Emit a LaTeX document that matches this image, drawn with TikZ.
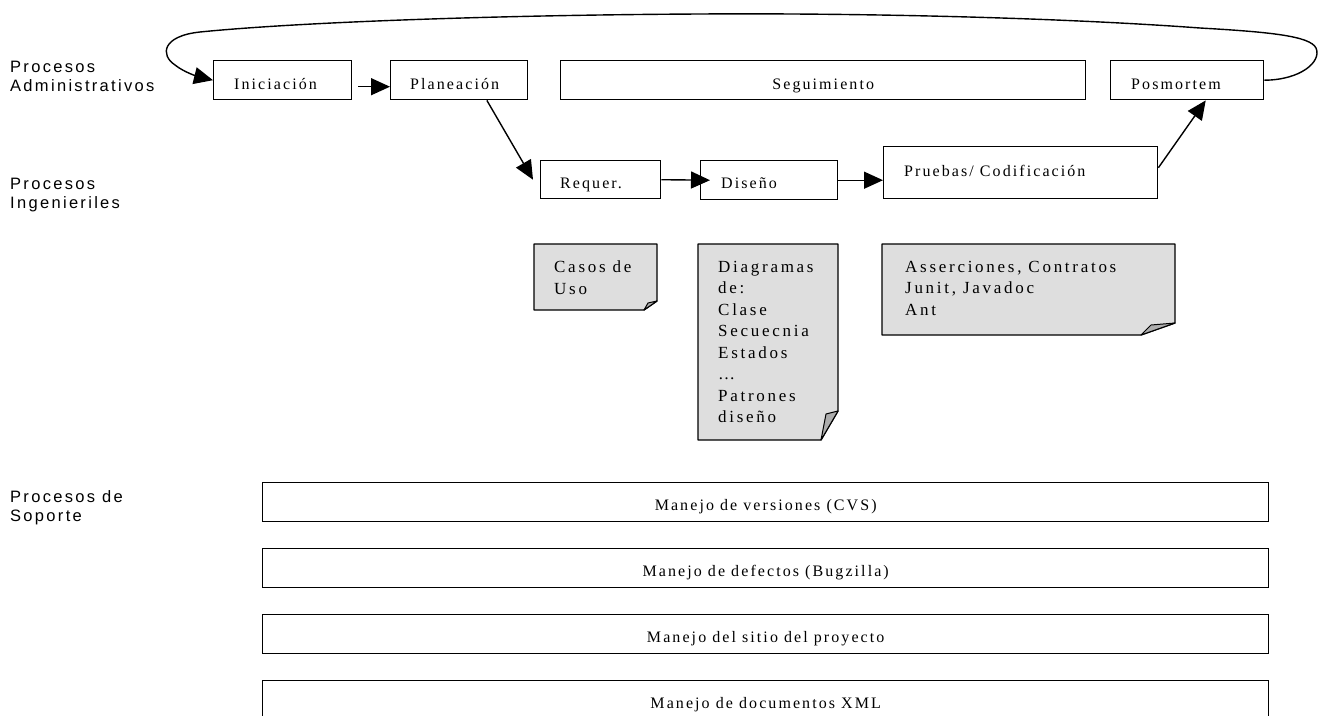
\documentclass[tikz,border=0pt]{standalone}
\usepackage{fontspec}
\newfontfamily\boxfont{Liberation Serif}[LetterSpace=13]
\newfontfamily\notefont{Liberation Serif}[LetterSpace=16]
\newfontfamily\sidefont{Liberation Sans}[LetterSpace=14]
\usepackage{tikz}
\usetikzlibrary{arrows.meta, calc}
\definecolor{notegray}{gray}{0.87}
\definecolor{foldgray}{gray}{0.68}

\begin{document}
\begin{tikzpicture}[x=1pt, y=-1pt,
  box/.style={draw, line width=1.4pt, inner sep=0pt, anchor=north west},
  txt/.style={font=\boxfont\fontsize{16}{21}\selectfont, inner sep=0pt, anchor=base west},
  ctxt/.style={txt, anchor=base},
  notetxt/.style={font=\notefont\fontsize{17}{21.5}\selectfont, inner sep=0pt, anchor=north west, align=left},
  side/.style={font=\sidefont\fontsize{16.5}{19}\selectfont, inner sep=0pt, anchor=north west, align=left},
  note/.style={draw, line width=1.4pt, fill=notegray, line join=round},
  fold/.style={draw, line width=1pt, fill=foldgray, line join=round},
  arr/.style={-{Triangle[length=19pt, width=17pt]}, line width=1.4pt}
]
\clip (0,0) rectangle (1322,715);

\node[side] (adm) at (10,61.2) {Procesos\\Administrativos};
\node[side] (ing) at (10,178.2) {Procesos\\Ingenieriles};
\node[side] (sop) at (10,490.1) {Procesos de\\Soporte};

\node[box, minimum width=138pt, minimum height=39pt] (ini) at (213,60) {};
\node[box, minimum width=137pt, minimum height=39pt] (plan) at (390,60) {};
\node[box, minimum width=525pt, minimum height=39pt] (seg) at (560,60) {};
\node[box, minimum width=153pt, minimum height=39pt] (pos) at (1110,60) {};
\node[box, minimum width=120pt, minimum height=38pt] (req) at (540,160) {};
\node[box, minimum width=137pt, minimum height=39pt] (dis) at (700,160) {};
\node[box, minimum width=274pt, minimum height=52pt] (prb) at (883,146) {};

\node[txt] (ini-t) at ([shift={(21,29.5)}]ini.north west) {Iniciación};
\node[txt] (plan-t) at ([shift={(20,29.5)}]plan.north west) {Planeación};
\node[ctxt] (seg-t) at ([yshift=-29.5pt]seg.north) {Seguimiento};
\node[txt] (pos-t) at ([shift={(21,29.5)}]pos.north west) {Posmortem};
\node[txt] (req-t) at ([shift={(20,28.5)}]req.north west) {Requer.};
\node[txt] (dis-t) at ([shift={(21,28.5)}]dis.north west) {Diseño};
\node[txt] (prb-t) at ([shift={(21,30)}]prb.north west) {Pruebas/ Codificación};

\draw[note] (534,244) -- (657,244) -- (657,301) -- (644,310) -- (534,310) -- cycle;
\draw[fold] (644,310) -- (648,303) -- (657,301) -- cycle;
\draw[note] (698,244) -- (838,244) -- (838,411) -- (821,440) -- (698,440) -- cycle;
\draw[fold] (821,440) -- (826,414) -- (838,411) -- cycle;
\draw[note] (882,244) -- (1175,244) -- (1175,323) -- (1141,335) -- (882,335) -- cycle;
\draw[fold] (1141,335) -- (1151,325) -- (1175,323) -- cycle;

\node[notetxt] (casos) at (554,260.9) {Casos de\\Uso};
\node[notetxt] (diag) at (718,260.9) {Diagramas\\de:\\Clase\\Secuecnia\\Estados\\\dots\\Patrones\\diseño};
\node[notetxt] (aserc) at (905,260.9) {Asserciones, Contratos\\Junit, Javadoc\\Ant};

\foreach \name/\y/\t in {ver/482/{Manejo de versiones (CVS)}, def/548/{Manejo de defectos (Bugzilla)},
    sitio/614/{Manejo del sitio del proyecto}, xml/680/{Manejo de documentos XML}} {
  \node[box, minimum width=1006pt, minimum height=39pt] (\name) at (262,\y) {};
  \node[ctxt] (\name-t) at ([yshift=-28pt]\name.north) {\t};
}

\draw[arr] (pos.east) .. controls (1300,80) and (1322,62) .. (1316,48)
  .. controls (1310,36) and (1270,32) .. (1200,28)
  .. controls (1050,17) and (850,13) .. (700,14)
  .. controls (500,15) and (300,22) .. (200,32)
  .. controls (162,36) and (160,55) .. (175,65)
  .. controls (185,73) and (200,77) .. (ini.west);
\draw[arr] ([xshift=6pt,yshift=-6.5pt]ini.east) -- ([yshift=-6.5pt]plan.west);
\draw[arr] ($(plan.south west)!0.7!(plan.south east)$) -- ([xshift=-7pt]req.west);
\draw[arr] (req.east) -- ([xshift=10pt]dis.west);
\draw[arr] (dis.east) -- (dis.east -| prb.west);
\draw[arr] ([yshift=5pt]prb.east) -- ($(pos.south west)!0.62!(pos.south east)$);

\end{tikzpicture}
\end{document}
